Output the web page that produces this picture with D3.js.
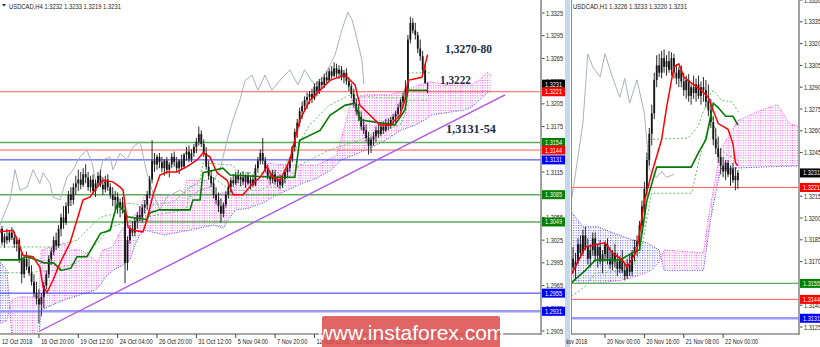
<!DOCTYPE html>
<html>
<head>
<meta charset="utf-8">
<script src="https://cdnjs.cloudflare.com/ajax/libs/d3/7.8.5/d3.min.js"></script>
<style>
  body { margin: 0; background: #fff; }
  svg { display: block; font-family: "Liberation Sans", Arial, sans-serif; }
</style>
</head>
<body>
<div class="diagram"></div>
<script>
// every price below is in pips above 1.3000 (231 -> 1.3231)

// ---- USDCAD H4 ----
const h4Candles = [ // [open, high, low, close], first bar 12 Oct 2018 00:00
  [30,42,22,35],[35,45,28,40],[40,44,18,22],[22,34,15,30],[30,40,20,25],[25,38,22,35],[35,42,25,28],[28,36,15,20],
  [20,30,10,25],[25,28,-5,0],[0,8,-32,-20],[-20,5,-25,0],[0,10,-15,-10],[-10,2,-22,-18],[-18,-8,-35,-30],[-30,-20,-50,-45],
  [-45,-30,-60,-52],[-52,-40,-85,-60],[-60,-45,-75,-50],[-50,-30,-65,-35],[-35,-15,-40,-20],[-20,5,-25,0],[0,15,-8,10],[10,30,5,25],
  [25,35,12,18],[18,45,15,40],[40,60,30,55],[55,70,40,48],[48,75,45,70],[70,90,60,85],[85,95,70,78],[78,100,72,95],
  [95,110,85,100],[100,118,90,105],[105,115,92,98],[98,120,95,112],[112,125,100,108],[108,115,90,95],[95,110,88,105],[105,112,85,90],
  [90,105,82,100],[100,115,95,110],[110,118,95,98],[98,108,85,92],[92,110,88,105],[105,112,90,95],[95,100,80,85],[85,95,70,78],
  [78,90,65,82],[82,88,60,68],[68,80,55,75],[75,82,60,65],[65,70,-32,-5],[-5,30,-15,25],[25,45,20,40],[40,50,30,35],
  [35,55,30,50],[50,62,40,58],[58,70,50,55],[55,72,48,68],[68,78,60,72],[72,90,65,85],[85,110,80,105],[105,157,100,130],
  [130,140,115,125],[125,138,118,135],[135,140,120,128],[128,135,115,120],[120,132,110,130],[130,135,112,118],[118,128,108,125],[125,140,120,135],
  [135,142,122,128],[128,135,115,120],[120,132,112,130],[130,138,118,122],[122,140,120,138],[138,148,130,142],[142,150,128,132],[132,145,128,140],
  [140,152,135,148],[148,160,140,155],[155,175,150,165],[165,170,148,152],[152,158,135,140],[140,148,118,122],[122,130,105,110],[110,118,95,100],
  [100,108,80,85],[85,95,72,78],[78,88,62,70],[70,80,48,60],[60,75,55,72],[72,90,68,85],[85,100,80,95],[95,108,88,104],
  [104,112,95,100],[100,115,98,110],[110,118,100,105],[105,114,96,108],[108,116,98,102],[102,112,94,110],[110,115,98,100],[100,110,92,105],
  [105,112,95,98],[98,125,96,120],[120,135,115,130],[130,145,125,140],[140,160,125,130],[130,135,115,118],[118,125,105,110],[110,115,98,105],
  [105,118,100,112],[112,118,98,102],[102,110,95,105],[105,112,92,98],[98,110,94,106],[106,118,100,115],[115,125,108,120],[120,135,115,132],
  [132,150,128,148],[148,172,142,168],[168,185,160,180],[180,200,175,195],[195,208,185,202],[202,215,195,210],[210,220,198,214],[214,222,205,218],
  [218,225,206,212],[212,232,210,228],[228,235,215,222],[222,238,218,234],[234,240,225,230],[230,245,226,240],[240,248,232,236],[236,252,234,248],
  [248,255,238,242],[242,260,240,252],[252,258,240,245],[245,256,238,250],[250,255,236,240],[240,250,232,246],[246,252,230,235],[235,240,222,228],
  [228,232,212,218],[218,225,200,205],[205,212,190,195],[195,205,182,188],[188,195,170,175],[175,185,165,170],[170,178,155,160],[160,168,138,150],
  [150,162,140,158],[158,168,150,162],[162,175,155,170],[170,178,160,165],[165,180,162,175],[175,182,165,170],[170,185,168,180],[180,186,170,176],
  [176,188,172,184],[184,192,178,188],[188,196,180,192],[192,205,188,200],[200,212,195,208],[208,220,202,215],[215,236,210,225],[225,296,222,290],
  [290,320,285,312],[312,318,298,302],[302,312,290,296],[296,300,272,278],[278,290,262,268],[268,275,245,250],[250,258,232,232],[232,233,219,231]
];
// indicator lines as [bar index, pips]
const h4Tenkan = [[1,36],[6.5,38],[9.3,16],[10.5,5],[14.6,3],[17.4,-11],[18.7,-37],[20.3,-44],[22.7,-28],[25.6,-5],[29.6,21],[32.5,52],
  [34.9,78],[37.8,82],[40.6,95],[43,104],[47.1,102],[50,95],[51.2,91],[53.2,42],[55.2,38],[59.3,36],[60.9,52],[63.4,85],[66.2,111],
  [69,115],[73.1,115],[77.2,122],[81.3,131],[83.7,140],[86.5,135],[89.4,114],[93.5,104],[95.9,85],[99.9,85],[104,100],[106.9,108],
  [109.7,122],[112.2,108],[115,104],[119,131],[123.1,184],[127.2,210],[131.3,223],[135.3,236],[141.4,243],[145.5,230],[147.5,203],
  [151.6,190],[155.7,177],[159.7,177],[163.8,190],[165.8,210],[167,236],[172.7,240],[175,270]];
const h4Kijun = [[1,-1],[9,-1],[12,3],[16,-1],[19,-5],[23,-5],[26,-15],[30,-12],[32.5,3],[36.5,3],[42,34],[46,38],[47,52],[49,74],
  [53,56],[61,52],[62,61],[66,65],[78.4,65],[79.6,78],[82.5,78],[83.7,114],[91.8,120],[94.7,111],[113.8,108],[121,108],[123,157],
  [131.3,170],[135.3,190],[141.4,203],[145.5,206],[147.5,184],[161.7,177],[165.8,197],[167,223],[175,223]];
const h4Chikou = [[1.2,45],[5.2,78],[7.3,118],[9.3,91],[12.2,95],[14.6,118],[17.4,100],[18.7,114],[21.5,100],[22.7,82],[25.6,78],
  [28.4,108],[30.9,118],[33.7,135],[36.5,144],[38.6,127],[40.6,95],[43,131],[45.9,135],[47.1,118],[50,140],[52.8,131],[55.2,148],
  [58.1,155],[60.9,114],[63.4,87],[66.2,65],[69,82],[74.3,91],[78.4,82],[82.5,91],[86.5,95],[90.6,118],[93.5,157],[95.9,184],
  [98.7,210],[100.8,236],[103.6,243],[106,223],[108.9,243],[111.7,223],[115,236],[119,250],[122.3,230],[125,250],[129,230],
  [133.3,243],[137.4,270],[140.2,303],[142.6,326],[144.3,316],[145.9,296],[148.3,263],[149.1,231]];
const h4SpanA = [[0,1],[4,-15],[6,-100],[17,-100],[18,-67],[27,-54],[34,-47],[40,-41],[42,-34],[44,-24],[47,-15],[51,-8],[54,-1],
  [56,18],[58,32],[60,38],[68,32],[78,38],[88,45],[92,41],[94,52],[97,65],[102,67],[108,74],[114,85],[118,91],[124,100],[130,107],
  [136,118],[140,131],[150,144],[158,157],[164,170],[170,177],[175,186],[176,190],[190,197],[193,201],[199,219],[201,223]];
const h4SpanB = [[0,-87],[4,-81],[6,-54],[9,-50],[17,-50],[18,12],[22,16],[27,21],[30,12],[34,12],[38,3],[41,-4],[43,12],[47,16],
  [50,36],[54,52],[58,65],[60,85],[76,85],[77,104],[85,104],[88,85],[96,90],[98,104],[108,104],[109,127],[118,124],[130,124],
  [138,137],[142,184],[144,210],[150,217],[160,217],[166,223],[175,234],[176,234],[186,229],[192,229],[196,236],[199,247],[201,243]];
const h4GreenUp = [[1,16],[22.7,16],[32.5,25],[41.8,55],[48.7,61],[52.8,74],[61,71],[71.5,75],[77,91],[82.5,104],[83.7,127],
  [95.9,124],[97.5,114],[115,114],[121,144],[127,177],[135,203],[143.5,217],[155.6,213],[166.6,213],[167,246],[176,246]];
const h4GreenLow = [[1,-18],[12,-18],[22.7,-15],[32.5,-5],[37.8,12],[41.8,25],[45.9,42],[55.2,52],[69,61],[77,65],[78.4,95],
  [87.8,108],[94.7,91],[106.9,91],[109.7,95],[115,95],[123,124],[135,144],[147.5,157],[155.6,170],[163.8,177],[165.8,190],
  [167,210],[176,210]];
const h4Trend = [[17.4,-95],[206.5,217]];
const h4Levels = [221, 154, 144, 131, 85, 49, -45, -69];
const h4LevelColors = ["red", "green", "red", "blue", "green", "green", "blue", "lightblue"];
const h4PriceTicks = [325, 295, 265, 235, 205, 175, 145, 115, 85, 55, 25, -5, -35, -65, -95];
const h4TimeTicks = [17, 33, 49, 65, 81, 97, 113, 129, 145, 161];
const h4TimeLabels = ["16 Oct 20:00", "19 Oct 12:00", "24 Oct 04:00", "26 Oct 20:00", "31 Oct 12:00",
  "5 Nov 04:00", "7 Nov 20:00", "12 Nov 12:00", "15 Nov 04:00", "19 Nov 20:00"];

// ---- USDCAD H1 ----
const h1Candles = [ // first bar 19 Nov 2018 10:00
  [165,178,158,172],[172,180,162,166],[166,176,157,170],[170,186,168,182],[182,188,172,176],[176,192,174,188],[188,194,178,180],
  [180,186,168,172],[172,182,166,178],[178,190,174,186],[186,190,170,174],[174,182,166,180],[180,185,168,170],[170,178,162,175],
  [175,184,170,182],[182,186,168,172],[172,180,165,168],[168,178,164,176],[176,182,166,170],[170,176,160,165],[165,174,162,172],
  [172,178,162,164],[164,170,157,160],[160,172,158,168],[168,175,160,163],[163,178,160,175],[175,185,170,180],[180,188,174,184],
  [184,198,180,195],[195,212,190,208],[208,225,200,220],[220,245,215,240],[240,262,236,258],[258,278,250,272],[272,300,268,295],
  [295,312,290,305],[305,313,297,300],[300,315,296,310],[310,316,300,304],[304,312,298,308],[308,315,300,302],[302,314,298,310],
  [310,313,296,300],[300,306,292,296],[296,304,290,302],[302,305,290,294],[294,300,284,288],[288,298,282,295],[295,299,280,284],
  [284,292,278,290],[290,298,282,286],[286,296,280,292],[292,298,282,284],[284,294,278,290],[290,297,280,288],[288,295,276,280],
  [280,292,270,274],[274,282,262,266],[266,270,250,254],[254,262,244,248],[248,256,238,242],[242,248,230,236],[236,242,228,232],
  [232,240,226,238],[238,240,228,230],[230,236,222,234],[234,238,224,226],[226,235,219,229],[226,233,220,231]
];
const h1Tenkan = [[0,160],[6,180],[11,182],[14,183],[17,176],[21,171],[23,166],[27,178],[30,212],[33,231],[37,254],[39,276],
  [42,304],[44,306],[46,297],[49,293],[53,288],[56,283],[60,265],[64,261],[66,251],[67,238],[68,236]];
const h1Kijun = [[0,155],[6,164],[10,171],[20,171],[25,176],[28,178],[31,212],[35,235],[49,235],[52,245],[55,254],[58,279],
  [60,276],[63,270],[66,270],[68,264]];
const h1Chikou = [[0,208],[3,242],[5,265],[7,313],[9,304],[12,297],[14,313],[17,297],[20,283],[22,296],[24,279],[27,295],
  [30,272],[32,233],[35,228],[37,232],[39,228],[42,230]];
const h1SpanA = [[0,205],[5,194],[11,194],[17,190],[25,185],[31,183],[36,178],[38,164],[54,164],[57,200],[61,234],[94,236]];
const h1SpanB = [[0,155],[10,155],[20,157],[27,160],[33,164],[36,170],[38,178],[54,176],[56,200],[61,247],[68,267],[77,274],
  [84,278],[89,265],[94,262]];
const h1GreenUp = [[30.2,194],[31.6,254],[47.7,255],[51.8,263],[56,283],[58,288],[61.3,281],[65.5,280],[68.2,273]];
const h1GreenLow = [[0.4,146],[5.9,153],[9.9,162],[24.8,164],[29,180],[32.9,217],[49.2,217],[53.2,247],[57.6,270],[60,249],
  [64,243],[68,240]];
const h1Levels = [221, 155, 144, 131];
const h1LevelColors = ["red", "green", "red", "lightblue"];
const h1PriceTicks = [350, 335, 320, 305, 290, 275, 260, 245, 230, 215, 200, 185, 170, 155, 140, 125];
const h1TimeTicks = [14, 30, 46, 62];
const h1TimeLabels = ["20 Nov 00:00", "20 Nov 16:00", "21 Nov 08:00", "22 Nov 00:00"];

const colors = {red: "#ff5a5a", green: "#5aae5a", blue: "#3030ff", lightblue: "#9a9aff"};
const boxColors = {red: "#ff0000", green: "#008000", blue: "#0000ff", lightblue: "#0000ff"};
const fmt = v => (1.3 + v / 10000).toFixed(4);

const W = 820, H = 347;
const svg = d3.select(".diagram").append("svg").attr("width", W).attr("height", H);

// dotted hatch used by the ichimoku cloud
const defs = svg.append("defs");
[["dotPink", "#ff4dff"], ["dotBlue", "#5050ff"]].forEach(([id, col]) => {
  const p = defs.append("pattern").attr("id", id).attr("patternUnits", "userSpaceOnUse")
    .attr("width", 2.46).attr("height", 2.5);
  p.append("rect").attr("width", 1).attr("height", 1).attr("fill", col);
});

// squeeze a small label to the width the terminal font gives it
function fit(sel, w) {
  return sel.attr("textLength", w).attr("lengthAdjust", "spacingAndGlyphs");
}

function drawPanel(o) {
  const x = d3.scaleLinear().domain([0, 100]).range([o.x0, o.x0 + 246]);
  const y = d3.scaleLinear().domain(o.yDomain).range(o.yRange);
  const line = d3.line().x(d => x(d[0])).y(d => y(d[1]));

  defs.append("clipPath").attr("id", "clip" + o.id)
    .append("rect").attr("x", o.left).attr("y", 0)
    .attr("width", o.right - o.left).attr("height", o.bottom);

  const g = svg.append("g").attr("clip-path", `url(#clip${o.id})`);

  // cloud: area between span A and span B, coloured by which one is on top
  const a0 = o.spanA[0][0], a1 = o.spanA[o.spanA.length - 1][0];
  const cloud = line(o.spanB) + line(o.spanA.slice().reverse()).replace("M", "L") + "Z";
  defs.append("clipPath").attr("id", "aboveA" + o.id).append("path")
    .attr("d", line(o.spanA) + `L${x(a1)},-50L${x(a0)},-50Z`);
  defs.append("clipPath").attr("id", "belowA" + o.id).append("path")
    .attr("d", line(o.spanA) + `L${x(a1)},600L${x(a0)},600Z`);
  g.append("path").attr("d", cloud).attr("fill", "url(#dotPink)")
    .attr("clip-path", `url(#aboveA${o.id})`);
  g.append("path").attr("d", cloud).attr("fill", "url(#dotBlue)")
    .attr("clip-path", `url(#belowA${o.id})`);
  g.append("path").attr("d", line(o.spanA)).attr("fill", "none")
    .attr("stroke", "#4040ff").attr("stroke-width", 1).attr("stroke-dasharray", "1,1.5");
  g.append("path").attr("d", line(o.spanB)).attr("fill", "none")
    .attr("stroke", "#ff40ff").attr("stroke-width", 1).attr("stroke-dasharray", "1,1.5");

  // horizontal levels
  o.levels.forEach((v, i) => {
    const c = o.levelColors[i];
    g.append("line").attr("x1", o.left).attr("x2", o.right)
      .attr("y1", y(v)).attr("y2", y(v))
      .attr("stroke", colors[c])
      .attr("stroke-width", c == "lightblue" ? 2.5 : (c == "green" ? 1.4 : 1));
  });

  // chikou and the light green dashed lines
  g.append("path").attr("d", line(o.chikou)).attr("fill", "none")
    .attr("stroke", "#a9b0be").attr("stroke-width", 1);
  [o.greenUp, o.greenLow].forEach(arr => {
    g.append("path").attr("d", line(arr)).attr("fill", "none")
      .attr("stroke", "#62c062").attr("stroke-width", 1).attr("stroke-dasharray", "2,2");
  });

  // candles
  const c = g.append("g");
  c.selectAll(".wick").data(o.candles).join("line")
    .attr("x1", (d, i) => x(i)).attr("x2", (d, i) => x(i))
    .attr("y1", d => y(d[1])).attr("y2", d => y(d[2]))
    .attr("stroke", "#2a2a2a").attr("stroke-width", 1);
  c.selectAll(".body").data(o.candles).join("rect")
    .attr("x", (d, i) => x(i) - 0.9).attr("width", 1.8)
    .attr("y", d => y(Math.max(d[0], d[3])))
    .attr("height", d => Math.max(0.8, Math.abs(y(d[0]) - y(d[3]))))
    .attr("fill", "#151515");

  if (o.trend) {
    g.append("path").attr("d", line(o.trend)).attr("stroke", "#b050ee")
      .attr("stroke-width", 1.4).attr("fill", "none");
  }

  g.append("path").attr("d", line(o.kijun)).attr("fill", "none")
    .attr("stroke", "#007a00").attr("stroke-width", 1.6);
  g.append("path").attr("d", line(o.tenkan)).attr("fill", "none")
    .attr("stroke", "#ff0000").attr("stroke-width", 1.5);

  // frame: price axis on the right, time axis at the bottom
  svg.append("line").attr("x1", o.right).attr("x2", o.right).attr("y1", 0).attr("y2", o.bottom + 1)
    .attr("stroke", "#8a8a8a").attr("stroke-width", 1.6);
  svg.append("line").attr("x1", o.left).attr("x2", o.right).attr("y1", o.bottom).attr("y2", o.bottom)
    .attr("stroke", "#8a8a8a").attr("stroke-width", 1.6);

  const ax = svg.append("g").style("font-size", "7px").attr("fill", "#222");
  o.priceTicks.forEach(v => {
    ax.append("line").attr("x1", o.right + 1).attr("x2", o.right + 3.5)
      .attr("y1", y(v)).attr("y2", y(v)).attr("stroke", "#444");
    fit(ax.append("text").attr("x", o.right + 5).attr("y", y(v) + 2.5).text(fmt(v)), 17);
  });
  o.boxes.forEach(b => {
    ax.append("rect").attr("x", o.right + 1).attr("y", y(b[0]) - 4.5)
      .attr("width", 23).attr("height", 9).attr("fill", b[1]);
    fit(ax.append("text").attr("x", o.right + 4).attr("y", y(b[0]) + 2.5)
      .attr("fill", "#fff").text(fmt(b[0])), 17);
  });

  defs.append("clipPath").attr("id", "win" + o.id).append("rect")
    .attr("x", o.winLeft).attr("y", 0).attr("width", o.right + 30 - o.winLeft).attr("height", H);
  const tx = svg.append("g").style("font-size", "7px").attr("fill", "#222")
    .attr("clip-path", `url(#win${o.id})`);
  o.timeTicks.forEach((t, i) => {
    tx.append("line").attr("x1", x(t)).attr("x2", x(t)).attr("y1", o.bottom).attr("y2", o.bottom + 4)
      .attr("stroke", "#444");
    const lab = o.timeLabels[i];
    fit(tx.append("text").attr("x", x(t) + 2).attr("y", o.bottom + 10).text(lab), lab.length * 2.75);
  });
  fit(tx.append("text").attr("x", o.firstLabelX).attr("y", o.bottom + 10).text(o.firstLabel),
    o.firstLabel.length * 2.75);

  fit(svg.append("text").attr("x", o.left + o.headerDx).attr("y", 8.5)
    .style("font-size", "7px").attr("fill", "#222").text(o.header), o.headerWidth);
}

drawPanel({
  id: "h4", x0: -2.9, left: 0, right: 541, bottom: 334, winLeft: 0,
  yDomain: [-95, 325], yRange: [331, 13],
  candles: h4Candles, tenkan: h4Tenkan, kijun: h4Kijun, chikou: h4Chikou,
  spanA: h4SpanA, spanB: h4SpanB, greenUp: h4GreenUp, greenLow: h4GreenLow, trend: h4Trend,
  levels: h4Levels, levelColors: h4LevelColors, priceTicks: h4PriceTicks,
  boxes: [[231, "#000"]].concat(h4Levels.map((v, i) => [v, boxColors[h4LevelColors[i]]])),
  timeTicks: h4TimeTicks, timeLabels: h4TimeLabels, firstLabel: "12 Oct 2018", firstLabelX: 2,
  header: "USDCAD,H4  1.3232 1.3233 1.3219 1.3231", headerDx: 9, headerWidth: 112
});

// window frame of the second chart
svg.append("rect").attr("x", 565).attr("y", 0).attr("width", 5).attr("height", H).attr("fill", "#c4d8ee");
svg.append("line").attr("x1", 571.5).attr("x2", 571.5).attr("y1", 0).attr("y2", 335)
  .attr("stroke", "#8a8a8a").attr("stroke-width", 1);

drawPanel({
  id: "h1", x0: 570.6, left: 572, right: 799, bottom: 334, winLeft: 566,
  yDomain: [125, 350], yRange: [327, 0],
  candles: h1Candles, tenkan: h1Tenkan, kijun: h1Kijun, chikou: h1Chikou,
  spanA: h1SpanA, spanB: h1SpanB, greenUp: h1GreenUp, greenLow: h1GreenLow, trend: null,
  levels: h1Levels, levelColors: h1LevelColors, priceTicks: h1PriceTicks,
  boxes: [[231, "#000"]].concat(h1Levels.map((v, i) => [v, boxColors[h1LevelColors[i]]])),
  timeTicks: h1TimeTicks, timeLabels: h1TimeLabels, firstLabel: "19 Nov 2018", firstLabelX: 557,
  header: "USDCAD,H1  1.3226 1.3233 1.3220 1.3231", headerDx: 1, headerWidth: 114
});

// little dropdown triangle of the first header
svg.append("path").attr("d", "M2,4L6,4L4,6.5Z").attr("fill", "#222");

// analyst notes
const notes = [["1,3270-80", 445, 53, 47], ["1,3222", 440, 84, 31], ["1,3131-54", 446, 133, 50]];
notes.forEach(d => {
  fit(svg.append("text").attr("x", d[1]).attr("y", d[2])
    .style("font-family", "'Liberation Serif', 'Times New Roman', serif")
    .style("font-weight", "bold").style("font-size", "13px")
    .attr("fill", "#1c2c48").text(d[0]), d[3]);
});

// watermark
svg.append("rect").attr("x", 322).attr("y", 316).attr("width", 178).attr("height", 40)
  .attr("rx", 2).attr("fill", "#dc4a4a").attr("opacity", 0.85);
svg.append("text").attr("x", 411).attr("y", 340).attr("text-anchor", "middle")
  .style("font-size", "21px").attr("fill", "#fff").text("www.instaforex.com");
</script>
</body>
</html>
